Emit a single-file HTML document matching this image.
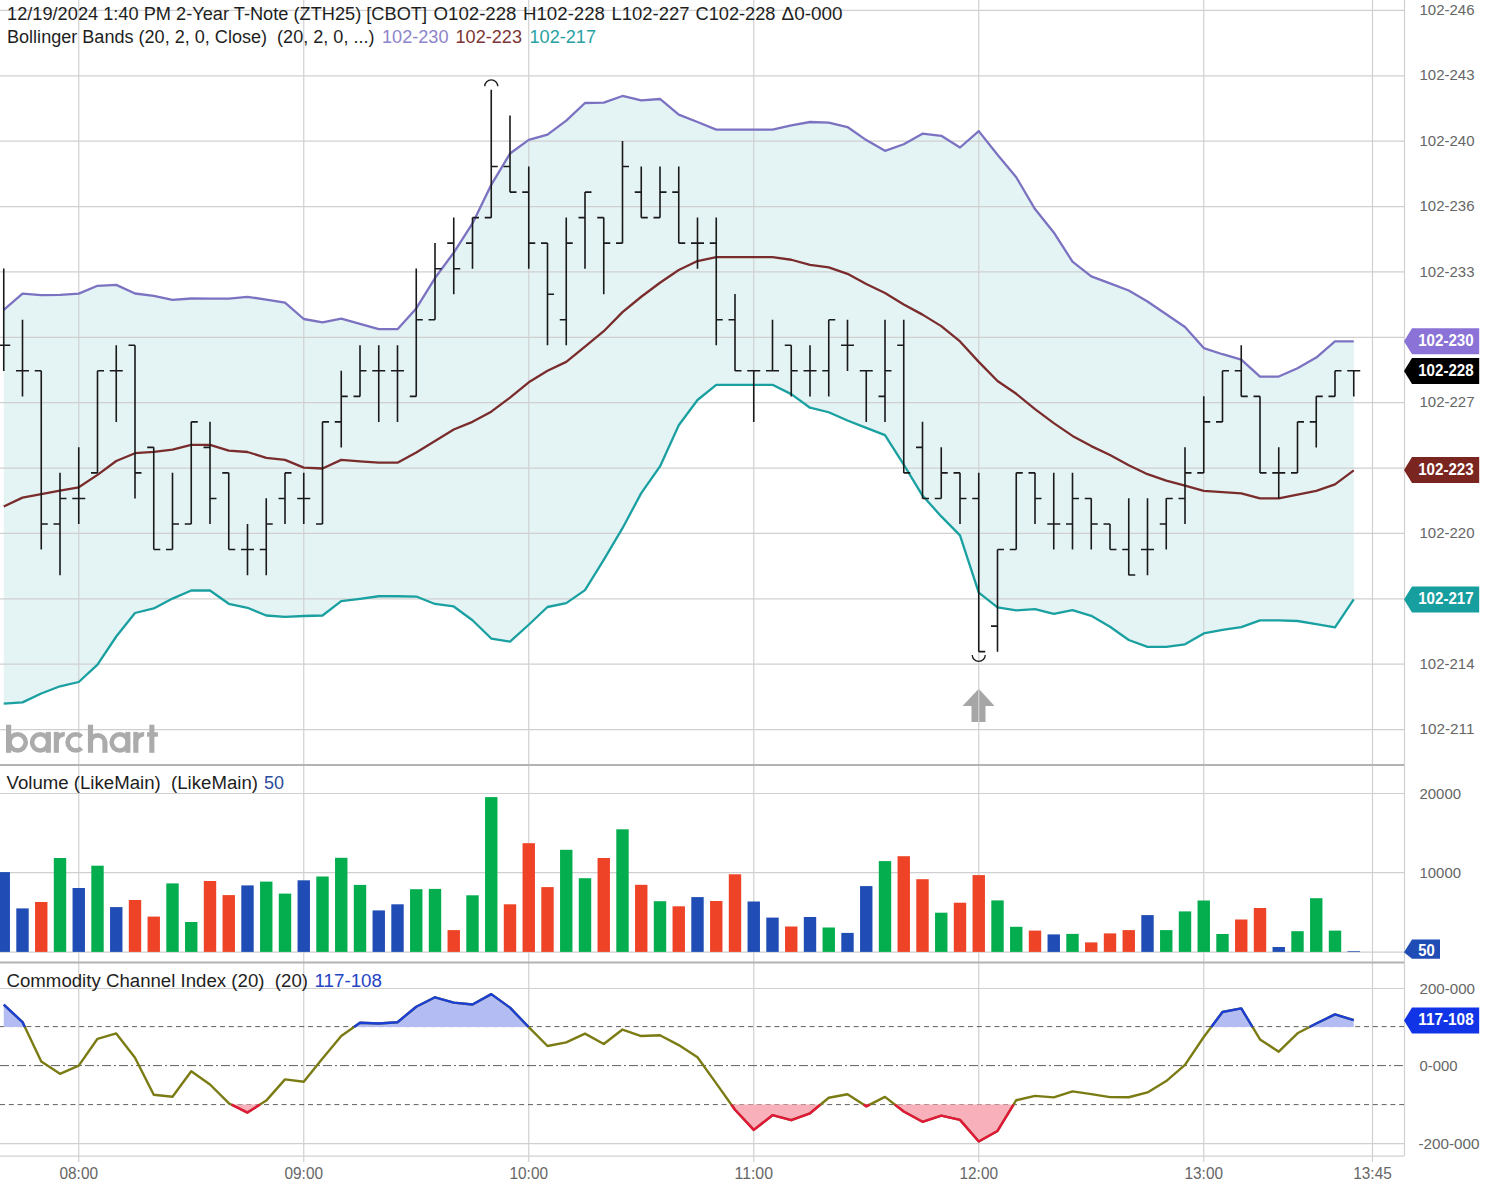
<!DOCTYPE html><html><head><meta charset="utf-8"><style>html,body{margin:0;padding:0;background:#fff;width:1486px;height:1191px;overflow:hidden}</style></head><body><svg width="1486" height="1191" viewBox="0 0 1486 1191" style="display:block;font-family:'Liberation Sans',sans-serif">
<rect width="1486" height="1191" fill="#fff"/>
<polygon points="3.75,309.80 22.50,293.70 41.25,295.20 60.00,294.80 78.75,293.60 97.50,285.80 116.25,284.90 135.00,293.50 153.75,295.80 172.50,299.80 191.25,298.50 210.00,298.60 228.75,298.60 247.50,296.80 266.25,299.60 285.00,302.60 303.75,319.00 322.50,322.40 341.25,318.70 360.00,323.97 378.75,329.17 397.50,329.17 416.25,308.44 435.00,278.03 453.75,252.57 472.50,223.45 491.25,184.79 510.00,153.54 528.75,139.83 547.50,134.60 566.25,120.60 585.00,103.02 603.75,102.61 622.50,95.99 641.25,100.40 660.00,98.99 678.75,114.68 697.50,122.03 716.25,129.57 735.00,129.57 753.75,129.57 772.50,129.57 791.25,125.35 810.00,122.00 828.75,122.56 847.50,127.04 866.25,140.12 885.00,150.81 903.75,144.25 922.50,133.68 941.25,135.84 960.00,147.50 978.75,131.09 997.50,154.73 1016.25,177.21 1035.00,209.05 1053.75,232.45 1072.50,261.64 1091.25,276.40 1110.00,283.33 1128.75,290.53 1147.50,301.44 1166.25,314.26 1185.00,327.07 1203.75,348.10 1222.50,354.23 1241.25,359.61 1260.00,376.55 1278.75,376.55 1297.50,368.23 1316.25,357.54 1335.00,341.37 1353.75,341.30 1353.75,599.44 1335.00,627.44 1316.25,624.04 1297.50,621.01 1278.75,620.35 1260.00,620.35 1241.25,627.08 1222.50,629.91 1203.75,633.49 1185.00,644.30 1166.25,646.90 1147.50,646.95 1128.75,639.99 1110.00,626.77 1091.25,615.83 1072.50,610.16 1053.75,613.83 1035.00,609.14 1016.25,610.35 997.50,607.29 978.75,592.64 960.00,535.38 941.25,516.40 922.50,495.59 903.75,464.59 885.00,435.06 866.25,427.87 847.50,420.53 828.75,412.25 810.00,407.70 791.25,394.14 772.50,384.82 753.75,384.82 735.00,384.82 716.25,384.82 697.50,400.01 678.75,425.23 660.00,466.45 641.25,493.13 622.50,528.17 603.75,559.85 585.00,590.07 566.25,603.13 547.50,607.00 528.75,624.74 510.00,641.67 491.25,638.51 472.50,620.27 453.75,606.47 435.00,603.98 416.25,596.55 397.50,596.25 378.75,596.25 360.00,598.89 341.25,601.20 322.50,615.50 303.75,616.00 285.00,616.80 266.25,615.50 247.50,607.80 228.75,603.80 210.00,590.50 191.25,590.50 172.50,598.60 153.75,608.40 135.00,613.00 116.25,636.50 97.50,664.60 78.75,682.00 60.00,686.30 41.25,693.50 22.50,702.40 3.75,703.70" fill="#e4f3f4"/>
<polygon points="978.75,688.7 994.5,706 985.5,706 985.5,722 971.5,722 971.5,706 962.5,706" fill="#a6a6a6"/>
<line x1="0" y1="10.40" x2="1404" y2="10.40" stroke="#d0d0d0" stroke-width="1.2"/>
<line x1="0" y1="75.78" x2="1404" y2="75.78" stroke="#d0d0d0" stroke-width="1.2"/>
<line x1="0" y1="141.16" x2="1404" y2="141.16" stroke="#d0d0d0" stroke-width="1.2"/>
<line x1="0" y1="206.54" x2="1404" y2="206.54" stroke="#d0d0d0" stroke-width="1.2"/>
<line x1="0" y1="271.92" x2="1404" y2="271.92" stroke="#d0d0d0" stroke-width="1.2"/>
<line x1="0" y1="337.30" x2="1404" y2="337.30" stroke="#d0d0d0" stroke-width="1.2"/>
<line x1="0" y1="402.68" x2="1404" y2="402.68" stroke="#d0d0d0" stroke-width="1.2"/>
<line x1="0" y1="468.06" x2="1404" y2="468.06" stroke="#d0d0d0" stroke-width="1.2"/>
<line x1="0" y1="533.44" x2="1404" y2="533.44" stroke="#d0d0d0" stroke-width="1.2"/>
<line x1="0" y1="598.82" x2="1404" y2="598.82" stroke="#d0d0d0" stroke-width="1.2"/>
<line x1="0" y1="664.20" x2="1404" y2="664.20" stroke="#d0d0d0" stroke-width="1.2"/>
<line x1="0" y1="729.58" x2="1404" y2="729.58" stroke="#d0d0d0" stroke-width="1.2"/>
<line x1="0" y1="793.5" x2="1404" y2="793.5" stroke="#d0d0d0" stroke-width="1.2"/>
<line x1="0" y1="872.6" x2="1404" y2="872.6" stroke="#d0d0d0" stroke-width="1.2"/>
<line x1="0" y1="952.2" x2="1404" y2="952.2" stroke="#d0d0d0" stroke-width="1.2"/>
<line x1="0" y1="988.5" x2="1404" y2="988.5" stroke="#d0d0d0" stroke-width="1.2"/>
<line x1="0" y1="1143.6" x2="1404" y2="1143.6" stroke="#d0d0d0" stroke-width="1.2"/>
<line x1="78.75" y1="0" x2="78.75" y2="1162" stroke="#d0d0d0" stroke-width="1.2"/>
<line x1="303.75" y1="0" x2="303.75" y2="1162" stroke="#d0d0d0" stroke-width="1.2"/>
<line x1="528.75" y1="0" x2="528.75" y2="1162" stroke="#d0d0d0" stroke-width="1.2"/>
<line x1="753.75" y1="0" x2="753.75" y2="1162" stroke="#d0d0d0" stroke-width="1.2"/>
<line x1="978.75" y1="0" x2="978.75" y2="1162" stroke="#d0d0d0" stroke-width="1.2"/>
<line x1="1203.75" y1="0" x2="1203.75" y2="1162" stroke="#d0d0d0" stroke-width="1.2"/>
<line x1="1372.5" y1="0" x2="1372.5" y2="1162" stroke="#d0d0d0" stroke-width="1.2"/>
<line x1="1404.5" y1="0" x2="1404.5" y2="1156" stroke="#d0d0d0" stroke-width="1.2"/>
<line x1="0" y1="1156.2" x2="1404" y2="1156.2" stroke="#d0d0d0" stroke-width="1.2"/>
<rect x="0" y="764" width="1404" height="2" fill="#b3b3b3"/>
<rect x="0" y="961.5" width="1404" height="2" fill="#b3b3b3"/>
<polyline points="3.75,309.80 22.50,293.70 41.25,295.20 60.00,294.80 78.75,293.60 97.50,285.80 116.25,284.90 135.00,293.50 153.75,295.80 172.50,299.80 191.25,298.50 210.00,298.60 228.75,298.60 247.50,296.80 266.25,299.60 285.00,302.60 303.75,319.00 322.50,322.40 341.25,318.70 360.00,323.97 378.75,329.17 397.50,329.17 416.25,308.44 435.00,278.03 453.75,252.57 472.50,223.45 491.25,184.79 510.00,153.54 528.75,139.83 547.50,134.60 566.25,120.60 585.00,103.02 603.75,102.61 622.50,95.99 641.25,100.40 660.00,98.99 678.75,114.68 697.50,122.03 716.25,129.57 735.00,129.57 753.75,129.57 772.50,129.57 791.25,125.35 810.00,122.00 828.75,122.56 847.50,127.04 866.25,140.12 885.00,150.81 903.75,144.25 922.50,133.68 941.25,135.84 960.00,147.50 978.75,131.09 997.50,154.73 1016.25,177.21 1035.00,209.05 1053.75,232.45 1072.50,261.64 1091.25,276.40 1110.00,283.33 1128.75,290.53 1147.50,301.44 1166.25,314.26 1185.00,327.07 1203.75,348.10 1222.50,354.23 1241.25,359.61 1260.00,376.55 1278.75,376.55 1297.50,368.23 1316.25,357.54 1335.00,341.37 1353.75,341.30" fill="none" stroke="#7b72c2" stroke-width="2.3" stroke-linejoin="round"/>
<polyline points="3.75,506.50 22.50,497.60 41.25,494.10 60.00,490.60 78.75,487.30 97.50,474.90 116.25,461.00 135.00,453.20 153.75,451.80 172.50,449.60 191.25,444.90 210.00,444.90 228.75,450.60 247.50,452.00 266.25,457.80 285.00,459.90 303.75,467.60 322.50,468.50 341.25,459.90 360.00,461.43 378.75,462.71 397.50,462.71 416.25,452.50 435.00,441.01 453.75,429.52 472.50,421.86 491.25,411.65 510.00,397.61 528.75,382.29 547.50,370.80 566.25,361.86 585.00,346.55 603.75,331.23 622.50,312.08 641.25,296.76 660.00,282.72 678.75,269.96 697.50,261.02 716.25,257.19 735.00,257.19 753.75,257.19 772.50,257.19 791.25,259.74 810.00,264.85 828.75,267.40 847.50,273.79 866.25,284.00 885.00,292.93 903.75,304.42 922.50,314.63 941.25,326.12 960.00,341.44 978.75,361.86 997.50,381.01 1016.25,393.78 1035.00,409.10 1053.75,423.14 1072.50,435.90 1091.25,446.11 1110.00,455.05 1128.75,465.26 1147.50,474.20 1166.25,480.58 1185.00,485.69 1203.75,490.79 1222.50,492.07 1241.25,493.34 1260.00,498.45 1278.75,498.45 1297.50,494.62 1316.25,490.79 1335.00,484.41 1353.75,470.37" fill="none" stroke="#7a2c2c" stroke-width="2.3" stroke-linejoin="round"/>
<polyline points="3.75,703.70 22.50,702.40 41.25,693.50 60.00,686.30 78.75,682.00 97.50,664.60 116.25,636.50 135.00,613.00 153.75,608.40 172.50,598.60 191.25,590.50 210.00,590.50 228.75,603.80 247.50,607.80 266.25,615.50 285.00,616.80 303.75,616.00 322.50,615.50 341.25,601.20 360.00,598.89 378.75,596.25 397.50,596.25 416.25,596.55 435.00,603.98 453.75,606.47 472.50,620.27 491.25,638.51 510.00,641.67 528.75,624.74 547.50,607.00 566.25,603.13 585.00,590.07 603.75,559.85 622.50,528.17 641.25,493.13 660.00,466.45 678.75,425.23 697.50,400.01 716.25,384.82 735.00,384.82 753.75,384.82 772.50,384.82 791.25,394.14 810.00,407.70 828.75,412.25 847.50,420.53 866.25,427.87 885.00,435.06 903.75,464.59 922.50,495.59 941.25,516.40 960.00,535.38 978.75,592.64 997.50,607.29 1016.25,610.35 1035.00,609.14 1053.75,613.83 1072.50,610.16 1091.25,615.83 1110.00,626.77 1128.75,639.99 1147.50,646.95 1166.25,646.90 1185.00,644.30 1203.75,633.49 1222.50,629.91 1241.25,627.08 1260.00,620.35 1278.75,620.35 1297.50,621.01 1316.25,624.04 1335.00,627.44 1353.75,599.44" fill="none" stroke="#1aa0a0" stroke-width="2.3" stroke-linejoin="round"/>
<path d="M3.75,268.58V370.90M-2.75,345.27H3.75M3.75,345.27H10.25M22.50,319.64V396.43M16.00,370.80H22.50M22.50,370.80H29.00M41.25,370.70V549.61M34.75,370.80H41.25M41.25,523.98H47.75M60.00,472.82V575.14M53.50,523.98H60.00M60.00,498.45H66.50M78.75,447.29V524.08M72.25,498.45H78.75M78.75,498.45H85.25M97.50,370.70V473.02M91.00,472.92H97.50M97.50,370.80H104.00M116.25,345.17V421.96M109.75,370.80H116.25M116.25,370.80H122.75M135.00,345.17V498.55M128.50,345.27H135.00M135.00,472.92H141.50M153.75,447.29V549.61M147.25,447.39H153.75M153.75,549.51H160.25M172.50,472.82V549.61M166.00,549.51H172.50M172.50,523.98H179.00M191.25,421.76V524.08M184.75,523.98H191.25M191.25,421.86H197.75M210.00,421.76V524.08M203.50,447.39H210.00M210.00,498.45H216.50M228.75,472.82V549.61M222.25,472.92H228.75M228.75,549.51H235.25M247.50,523.88V575.14M241.00,549.51H247.50M247.50,549.51H254.00M266.25,498.35V575.14M259.75,549.51H266.25M266.25,523.98H272.75M285.00,472.82V524.08M278.50,498.45H285.00M285.00,472.92H291.50M303.75,472.82V524.08M297.25,498.45H303.75M303.75,498.45H310.25M322.50,421.76V524.08M316.00,523.98H322.50M322.50,421.86H329.00M341.25,370.70V447.49M334.75,421.86H341.25M341.25,396.33H347.75M360.00,345.17V396.43M353.50,396.33H360.00M360.00,370.80H366.50M378.75,345.17V421.96M372.25,370.80H378.75M378.75,370.80H385.25M397.50,345.17V421.96M391.00,370.80H397.50M397.50,370.80H404.00M416.25,268.58V396.43M409.75,396.33H416.25M416.25,319.74H422.75M435.00,243.05V319.84M428.50,319.74H435.00M435.00,268.68H441.50M453.75,217.52V294.31M447.25,243.15H453.75M453.75,268.68H460.25M472.50,217.52V268.78M466.00,243.15H472.50M472.50,217.62H479.00M491.25,89.87V217.72M484.75,217.62H491.25M491.25,166.56H497.75M510.00,115.40V192.19M503.50,166.56H510.00M510.00,192.09H516.50M528.75,166.46V268.78M522.25,192.09H528.75M528.75,243.15H535.25M547.50,243.05V345.37M541.00,243.15H547.50M547.50,294.21H554.00M566.25,217.52V345.37M559.75,319.74H566.25M566.25,243.15H572.75M585.00,191.99V268.78M578.50,217.62H585.00M585.00,192.09H591.50M603.75,217.52V294.31M597.25,217.62H603.75M603.75,243.15H610.25M622.50,140.93V243.25M616.00,243.15H622.50M622.50,166.56H629.00M641.25,166.46V217.72M634.75,192.09H641.25M641.25,217.62H647.75M660.00,166.46V217.72M653.50,217.62H660.00M660.00,192.09H666.50M678.75,166.46V243.25M672.25,192.09H678.75M678.75,243.15H685.25M697.50,217.52V268.78M691.00,243.15H697.50M697.50,243.15H704.00M716.25,217.52V345.37M709.75,243.15H716.25M716.25,319.74H722.75M735.00,294.11V370.90M728.50,319.74H735.00M735.00,370.80H741.50M753.75,370.70V421.96M747.25,370.80H753.75M753.75,370.80H760.25M772.50,319.64V370.90M766.00,370.80H772.50M772.50,370.80H779.00M791.25,345.17V396.43M784.75,345.27H791.25M791.25,370.80H797.75M810.00,345.17V396.43M803.50,370.80H810.00M810.00,370.80H816.50M828.75,319.64V396.43M822.25,370.80H828.75M828.75,319.74H835.25M847.50,319.64V370.90M841.00,345.27H847.50M847.50,345.27H854.00M866.25,370.70V421.96M859.75,370.80H866.25M866.25,370.80H872.75M885.00,319.64V421.96M878.50,396.33H885.00M885.00,370.80H891.50M903.75,319.64V473.02M897.25,345.27H903.75M903.75,472.92H910.25M922.50,421.76V498.55M916.00,447.39H922.50M922.50,498.45H929.00M941.25,447.29V498.55M934.75,498.45H941.25M941.25,472.92H947.75M960.00,472.82V524.08M953.50,472.92H960.00M960.00,498.45H966.50M978.75,472.82V651.73M972.25,498.45H978.75M978.75,651.63H985.25M997.50,549.41V651.73M991.00,626.10H997.50M997.50,549.51H1004.00M1016.25,472.82V549.61M1009.75,549.51H1016.25M1016.25,472.92H1022.75M1035.00,472.82V524.08M1028.50,472.92H1035.00M1035.00,498.45H1041.50M1053.75,472.82V549.61M1047.25,523.98H1053.75M1053.75,523.98H1060.25M1072.50,472.82V549.61M1066.00,523.98H1072.50M1072.50,498.45H1079.00M1091.25,498.35V549.61M1084.75,498.45H1091.25M1091.25,523.98H1097.75M1110.00,523.88V549.61M1103.50,523.98H1110.00M1110.00,549.51H1116.50M1128.75,498.35V575.14M1122.25,549.51H1128.75M1128.75,575.04H1135.25M1147.50,498.35V575.14M1141.00,549.51H1147.50M1147.50,549.51H1154.00M1166.25,498.35V549.61M1159.75,523.98H1166.25M1166.25,498.45H1172.75M1185.00,447.29V524.08M1178.50,498.45H1185.00M1185.00,472.92H1191.50M1203.75,396.23V473.02M1197.25,472.92H1203.75M1203.75,421.86H1210.25M1222.50,370.70V421.96M1216.00,421.86H1222.50M1222.50,370.80H1229.00M1241.25,345.17V396.43M1234.75,370.80H1241.25M1241.25,396.33H1247.75M1260.00,396.23V473.02M1253.50,396.33H1260.00M1260.00,472.92H1266.50M1278.75,447.29V498.55M1272.25,472.92H1278.75M1278.75,472.92H1285.25M1297.50,421.76V473.02M1291.00,472.92H1297.50M1297.50,421.86H1304.00M1316.25,396.23V447.49M1309.75,421.86H1316.25M1316.25,396.33H1322.75M1335.00,370.70V396.43M1328.50,396.33H1335.00M1335.00,370.80H1341.50M1353.75,370.70V396.43M1347.25,370.80H1353.75M1353.75,370.80H1360.25" fill="none" stroke="#1a1a1a" stroke-width="1.6"/>
<path d="M484.75,86.37 A6.5,6.5 0 0 1 497.75,86.37" fill="none" stroke="#1a1a1a" stroke-width="1.3"/>
<path d="M972.25,654.93 A6.5,6.5 0 0 0 985.25,654.93" fill="none" stroke="#1a1a1a" stroke-width="1.3"/>
<g fill="#ababab">
<rect x="6" y="724.7" width="5.2" height="28.1"/>
<rect x="45.8" y="731.9" width="5.1" height="20.9"/>
<rect x="53.8" y="731.9" width="5.1" height="20.9"/>
<rect x="87.9" y="724.7" width="5.2" height="28.1"/>
<rect x="102.4" y="741.3" width="5.1" height="11.5"/>
<rect x="125.3" y="731.9" width="5.1" height="20.9"/>
<rect x="133.3" y="731.9" width="5.1" height="20.9"/>
<rect x="149.3" y="724.7" width="5.1" height="28.1"/>
<rect x="147" y="732.2" width="10.9" height="4.5"/>
</g>
<g fill="none" stroke="#ababab" stroke-width="4.6">
<circle cx="17.6" cy="742.35" r="8.15"/>
<circle cx="40.2" cy="742.35" r="8.15"/>
<path d="M56.35,743.5 A8.2,8.2 0 0 1 64.8,734.2"/>
<path d="M81.5,736.6 A8.15,8.15 0 1 0 81.5,748.1"/>
<path d="M90.5,742.6 A7.2,7.2 0 0 1 104.95,742.6"/>
<circle cx="119.8" cy="742.35" r="8.15"/>
<path d="M135.85,743.5 A8.2,8.2 0 0 1 144.2,734.2"/>
</g>
<rect x="-2.45" y="872.10" width="12.4" height="79.80" fill="#1f4db5"/>
<rect x="16.30" y="908.40" width="12.4" height="43.50" fill="#1f4db5"/>
<rect x="35.05" y="902.00" width="12.4" height="49.90" fill="#ee4326"/>
<rect x="53.80" y="858.00" width="12.4" height="93.90" fill="#04ae4f"/>
<rect x="72.55" y="888.00" width="12.4" height="63.90" fill="#1f4db5"/>
<rect x="91.30" y="865.70" width="12.4" height="86.20" fill="#04ae4f"/>
<rect x="110.05" y="907.10" width="12.4" height="44.80" fill="#1f4db5"/>
<rect x="128.80" y="900.00" width="12.4" height="51.90" fill="#ee4326"/>
<rect x="147.55" y="916.60" width="12.4" height="35.30" fill="#ee4326"/>
<rect x="166.30" y="883.40" width="12.4" height="68.50" fill="#04ae4f"/>
<rect x="185.05" y="922.00" width="12.4" height="29.90" fill="#04ae4f"/>
<rect x="203.80" y="881.00" width="12.4" height="70.90" fill="#ee4326"/>
<rect x="222.55" y="895.10" width="12.4" height="56.80" fill="#ee4326"/>
<rect x="241.30" y="885.40" width="12.4" height="66.50" fill="#1f4db5"/>
<rect x="260.05" y="881.60" width="12.4" height="70.30" fill="#04ae4f"/>
<rect x="278.80" y="893.60" width="12.4" height="58.30" fill="#04ae4f"/>
<rect x="297.55" y="880.30" width="12.4" height="71.60" fill="#1f4db5"/>
<rect x="316.30" y="876.50" width="12.4" height="75.40" fill="#04ae4f"/>
<rect x="335.05" y="857.80" width="12.4" height="94.10" fill="#04ae4f"/>
<rect x="353.80" y="884.90" width="12.4" height="67.00" fill="#04ae4f"/>
<rect x="372.55" y="910.40" width="12.4" height="41.50" fill="#1f4db5"/>
<rect x="391.30" y="904.30" width="12.4" height="47.60" fill="#1f4db5"/>
<rect x="410.05" y="889.20" width="12.4" height="62.70" fill="#04ae4f"/>
<rect x="428.80" y="888.90" width="12.4" height="63.00" fill="#04ae4f"/>
<rect x="447.55" y="930.10" width="12.4" height="21.80" fill="#ee4326"/>
<rect x="466.30" y="895.30" width="12.4" height="56.60" fill="#04ae4f"/>
<rect x="485.05" y="797.10" width="12.4" height="154.80" fill="#04ae4f"/>
<rect x="503.80" y="904.30" width="12.4" height="47.60" fill="#ee4326"/>
<rect x="522.55" y="843.20" width="12.4" height="108.70" fill="#ee4326"/>
<rect x="541.30" y="887.10" width="12.4" height="64.80" fill="#ee4326"/>
<rect x="560.05" y="849.80" width="12.4" height="102.10" fill="#04ae4f"/>
<rect x="578.80" y="878.20" width="12.4" height="73.70" fill="#04ae4f"/>
<rect x="597.55" y="858.00" width="12.4" height="93.90" fill="#ee4326"/>
<rect x="616.30" y="829.30" width="12.4" height="122.60" fill="#04ae4f"/>
<rect x="635.05" y="884.80" width="12.4" height="67.10" fill="#ee4326"/>
<rect x="653.80" y="901.20" width="12.4" height="50.70" fill="#04ae4f"/>
<rect x="672.55" y="906.30" width="12.4" height="45.60" fill="#ee4326"/>
<rect x="691.30" y="897.10" width="12.4" height="54.80" fill="#1f4db5"/>
<rect x="710.05" y="901.00" width="12.4" height="50.90" fill="#ee4326"/>
<rect x="728.80" y="874.30" width="12.4" height="77.60" fill="#ee4326"/>
<rect x="747.55" y="901.50" width="12.4" height="50.40" fill="#1f4db5"/>
<rect x="766.30" y="917.60" width="12.4" height="34.30" fill="#1f4db5"/>
<rect x="785.05" y="926.50" width="12.4" height="25.40" fill="#ee4326"/>
<rect x="803.80" y="917.00" width="12.4" height="34.90" fill="#1f4db5"/>
<rect x="822.55" y="927.50" width="12.4" height="24.40" fill="#04ae4f"/>
<rect x="841.30" y="932.90" width="12.4" height="19.00" fill="#1f4db5"/>
<rect x="860.05" y="886.10" width="12.4" height="65.80" fill="#1f4db5"/>
<rect x="878.80" y="861.10" width="12.4" height="90.80" fill="#04ae4f"/>
<rect x="897.55" y="856.20" width="12.4" height="95.70" fill="#ee4326"/>
<rect x="916.30" y="879.20" width="12.4" height="72.70" fill="#ee4326"/>
<rect x="935.05" y="912.70" width="12.4" height="39.20" fill="#04ae4f"/>
<rect x="953.80" y="902.70" width="12.4" height="49.20" fill="#ee4326"/>
<rect x="972.55" y="875.10" width="12.4" height="76.80" fill="#ee4326"/>
<rect x="991.30" y="900.40" width="12.4" height="51.50" fill="#04ae4f"/>
<rect x="1010.05" y="926.80" width="12.4" height="25.10" fill="#04ae4f"/>
<rect x="1028.80" y="930.60" width="12.4" height="21.30" fill="#ee4326"/>
<rect x="1047.55" y="934.40" width="12.4" height="17.50" fill="#1f4db5"/>
<rect x="1066.30" y="933.90" width="12.4" height="18.00" fill="#04ae4f"/>
<rect x="1085.05" y="942.40" width="12.4" height="9.50" fill="#ee4326"/>
<rect x="1103.80" y="933.40" width="12.4" height="18.50" fill="#ee4326"/>
<rect x="1122.55" y="930.10" width="12.4" height="21.80" fill="#ee4326"/>
<rect x="1141.30" y="915.10" width="12.4" height="36.80" fill="#1f4db5"/>
<rect x="1160.05" y="930.10" width="12.4" height="21.80" fill="#04ae4f"/>
<rect x="1178.80" y="911.40" width="12.4" height="40.50" fill="#04ae4f"/>
<rect x="1197.55" y="900.50" width="12.4" height="51.40" fill="#04ae4f"/>
<rect x="1216.30" y="934.00" width="12.4" height="17.90" fill="#04ae4f"/>
<rect x="1235.05" y="919.50" width="12.4" height="32.40" fill="#ee4326"/>
<rect x="1253.80" y="908.00" width="12.4" height="43.90" fill="#ee4326"/>
<rect x="1272.55" y="947.00" width="12.4" height="4.90" fill="#1f4db5"/>
<rect x="1291.30" y="931.20" width="12.4" height="20.70" fill="#04ae4f"/>
<rect x="1310.05" y="898.20" width="12.4" height="53.70" fill="#04ae4f"/>
<rect x="1328.80" y="930.60" width="12.4" height="21.30" fill="#04ae4f"/>
<rect x="1347.55" y="951.20" width="12.4" height="0.70" fill="#1f4db5"/>
<line x1="0" y1="1026.6" x2="1404" y2="1026.6" stroke="#606060" stroke-width="1" stroke-dasharray="5,3.8"/>
<line x1="0" y1="1104.6" x2="1404" y2="1104.6" stroke="#606060" stroke-width="1" stroke-dasharray="5,3.8"/>
<line x1="0" y1="1065.6" x2="1404" y2="1065.6" stroke="#606060" stroke-width="1" stroke-dasharray="9,3,2,3"/>
<polygon points="3.75,1004.70 22.50,1022.10 24.83,1027.00 24.83,1027.0 3.75,1027.0" fill="#b3bdf3"/>
<polygon points="354.02,1027.00 360.00,1022.78 378.75,1023.45 397.50,1022.21 416.25,1006.73 435.00,997.30 453.75,1002.58 472.50,1004.46 491.25,994.15 510.00,1007.65 528.60,1027.00 528.60,1027.0 354.02,1027.0" fill="#b3bdf3"/>
<polygon points="1211.27,1027.00 1222.50,1012.00 1241.25,1008.34 1252.51,1027.00 1252.51,1027.0 1211.27,1027.0" fill="#b3bdf3"/>
<polygon points="1309.52,1027.00 1316.25,1023.47 1335.00,1014.43 1353.75,1020.13 1353.75,1027.0 1309.52,1027.0" fill="#b3bdf3"/>
<polygon points="231.54,1104.60 247.50,1112.60 260.00,1104.60 260.00,1104.6 231.54,1104.6" fill="#f8b1ba"/>
<polygon points="731.36,1104.60 735.00,1109.71 753.75,1129.92 772.50,1115.21 791.25,1120.21 810.00,1113.25 820.47,1104.60 820.47,1104.6 731.36,1104.6" fill="#f8b1ba"/>
<polygon points="863.54,1104.60 866.25,1106.34 869.70,1104.60 869.70,1104.6 863.54,1104.6" fill="#f8b1ba"/>
<polygon points="894.88,1104.60 903.75,1111.51 922.50,1121.79 941.25,1115.63 960.00,1119.89 978.75,1141.44 997.50,1130.98 1013.58,1104.60 1013.58,1104.6 894.88,1104.6" fill="#f8b1ba"/>
<polyline points="3.75,1004.70 22.50,1022.10 41.25,1061.50 60.00,1073.80 78.75,1065.60 97.50,1038.80 116.25,1033.40 135.00,1057.70 153.75,1094.70 172.50,1096.80 191.25,1071.20 210.00,1084.50 228.75,1103.20 247.50,1112.60 266.25,1100.60 285.00,1079.40 303.75,1081.70 322.50,1058.40 341.25,1036.00 360.00,1022.78 378.75,1023.45 397.50,1022.21 416.25,1006.73 435.00,997.30 453.75,1002.58 472.50,1004.46 491.25,994.15 510.00,1007.65 528.75,1027.16 547.50,1046.02 566.25,1042.42 585.00,1033.64 603.75,1044.06 622.50,1029.54 641.25,1036.03 660.00,1035.27 678.75,1045.11 697.50,1057.18 716.25,1083.39 735.00,1109.71 753.75,1129.92 772.50,1115.21 791.25,1120.21 810.00,1113.25 828.75,1097.76 847.50,1094.30 866.25,1106.34 885.00,1096.90 903.75,1111.51 922.50,1121.79 941.25,1115.63 960.00,1119.89 978.75,1141.44 997.50,1130.98 1016.25,1100.21 1035.00,1095.86 1053.75,1097.40 1072.50,1091.39 1091.25,1094.14 1110.00,1097.11 1128.75,1097.28 1147.50,1092.44 1166.25,1081.05 1185.00,1064.82 1203.75,1037.04 1222.50,1012.00 1241.25,1008.34 1260.00,1039.42 1278.75,1051.69 1297.50,1033.31 1316.25,1023.47 1335.00,1014.43 1353.75,1020.13" fill="none" stroke="#7b7b14" stroke-width="2.4" stroke-linejoin="round"/>
<polyline points="3.75,1004.70 22.50,1022.10 24.83,1027.00" fill="none" stroke="#1b3fd6" stroke-width="2.4" stroke-linejoin="round"/>
<polyline points="354.02,1027.00 360.00,1022.78 378.75,1023.45 397.50,1022.21 416.25,1006.73 435.00,997.30 453.75,1002.58 472.50,1004.46 491.25,994.15 510.00,1007.65 528.60,1027.00" fill="none" stroke="#1b3fd6" stroke-width="2.4" stroke-linejoin="round"/>
<polyline points="1211.27,1027.00 1222.50,1012.00 1241.25,1008.34 1252.51,1027.00" fill="none" stroke="#1b3fd6" stroke-width="2.4" stroke-linejoin="round"/>
<polyline points="1309.52,1027.00 1316.25,1023.47 1335.00,1014.43 1353.75,1020.13" fill="none" stroke="#1b3fd6" stroke-width="2.4" stroke-linejoin="round"/>
<polyline points="231.54,1104.60 247.50,1112.60 260.00,1104.60" fill="none" stroke="#e3173c" stroke-width="2.4" stroke-linejoin="round"/>
<polyline points="731.36,1104.60 735.00,1109.71 753.75,1129.92 772.50,1115.21 791.25,1120.21 810.00,1113.25 820.47,1104.60" fill="none" stroke="#e3173c" stroke-width="2.4" stroke-linejoin="round"/>
<polyline points="863.54,1104.60 866.25,1106.34 869.70,1104.60" fill="none" stroke="#e3173c" stroke-width="2.4" stroke-linejoin="round"/>
<polyline points="894.88,1104.60 903.75,1111.51 922.50,1121.79 941.25,1115.63 960.00,1119.89 978.75,1141.44 997.50,1130.98 1013.58,1104.60" fill="none" stroke="#e3173c" stroke-width="2.4" stroke-linejoin="round"/>
<text x="7" y="19.9" font-size="18" fill="#1e1e1e" font-weight="normal" text-anchor="start" textLength="420" lengthAdjust="spacingAndGlyphs" xml:space="preserve">12/19/2024 1:40 PM 2-Year T-Note (ZTH25) [CBOT]</text>
<text x="433.5" y="19.9" font-size="18" fill="#1e1e1e" font-weight="normal" text-anchor="start" textLength="83" lengthAdjust="spacingAndGlyphs" xml:space="preserve">O102-228</text>
<text x="523" y="19.9" font-size="18" fill="#1e1e1e" font-weight="normal" text-anchor="start" textLength="82" lengthAdjust="spacingAndGlyphs" xml:space="preserve">H102-228</text>
<text x="611.5" y="19.9" font-size="18" fill="#1e1e1e" font-weight="normal" text-anchor="start" textLength="78" lengthAdjust="spacingAndGlyphs" xml:space="preserve">L102-227</text>
<text x="695.5" y="19.9" font-size="18" fill="#1e1e1e" font-weight="normal" text-anchor="start" textLength="80" lengthAdjust="spacingAndGlyphs" xml:space="preserve">C102-228</text>
<text x="781.5" y="19.9" font-size="18" fill="#1e1e1e" font-weight="normal" text-anchor="start" textLength="61" lengthAdjust="spacingAndGlyphs" xml:space="preserve">Δ0-000</text>
<text x="7" y="42.8" font-size="18" fill="#1e1e1e" font-weight="normal" text-anchor="start" textLength="367.5" lengthAdjust="spacingAndGlyphs" xml:space="preserve">Bollinger Bands (20, 2, 0, Close)  (20, 2, 0, ...)</text>
<text x="382" y="42.8" font-size="18" fill="#8e84cb" font-weight="normal" text-anchor="start" textLength="66.5" lengthAdjust="spacingAndGlyphs" xml:space="preserve">102-230</text>
<text x="455.5" y="42.8" font-size="18" fill="#7d3535" font-weight="normal" text-anchor="start" textLength="66.5" lengthAdjust="spacingAndGlyphs" xml:space="preserve">102-223</text>
<text x="529.5" y="42.8" font-size="18" fill="#28a2a2" font-weight="normal" text-anchor="start" textLength="66.5" lengthAdjust="spacingAndGlyphs" xml:space="preserve">102-217</text>
<text x="6.5" y="788.7" font-size="18" fill="#1e1e1e" font-weight="normal" text-anchor="start" textLength="251.5" lengthAdjust="spacingAndGlyphs" xml:space="preserve">Volume (LikeMain)  (LikeMain)</text>
<text x="264" y="788.7" font-size="18" fill="#2b4c9c" font-weight="normal" text-anchor="start" textLength="20" lengthAdjust="spacingAndGlyphs" xml:space="preserve">50</text>
<text x="6.5" y="986.8" font-size="18" fill="#1e1e1e" font-weight="normal" text-anchor="start" textLength="301.5" lengthAdjust="spacingAndGlyphs" xml:space="preserve">Commodity Channel Index (20)  (20)</text>
<text x="314.5" y="986.8" font-size="18" fill="#2444c4" font-weight="normal" text-anchor="start" textLength="67.5" lengthAdjust="spacingAndGlyphs" xml:space="preserve">117-108</text>
<text x="1419.5" y="15.0" font-size="15.5" fill="#666666" font-weight="normal" text-anchor="start" textLength="55" lengthAdjust="spacingAndGlyphs" xml:space="preserve">102-246</text>
<text x="1419.5" y="80.38" font-size="15.5" fill="#666666" font-weight="normal" text-anchor="start" textLength="55" lengthAdjust="spacingAndGlyphs" xml:space="preserve">102-243</text>
<text x="1419.5" y="145.76" font-size="15.5" fill="#666666" font-weight="normal" text-anchor="start" textLength="55" lengthAdjust="spacingAndGlyphs" xml:space="preserve">102-240</text>
<text x="1419.5" y="211.14" font-size="15.5" fill="#666666" font-weight="normal" text-anchor="start" textLength="55" lengthAdjust="spacingAndGlyphs" xml:space="preserve">102-236</text>
<text x="1419.5" y="276.52" font-size="15.5" fill="#666666" font-weight="normal" text-anchor="start" textLength="55" lengthAdjust="spacingAndGlyphs" xml:space="preserve">102-233</text>
<text x="1419.5" y="407.28" font-size="15.5" fill="#666666" font-weight="normal" text-anchor="start" textLength="55" lengthAdjust="spacingAndGlyphs" xml:space="preserve">102-227</text>
<text x="1419.5" y="538.04" font-size="15.5" fill="#666666" font-weight="normal" text-anchor="start" textLength="55" lengthAdjust="spacingAndGlyphs" xml:space="preserve">102-220</text>
<text x="1419.5" y="668.8" font-size="15.5" fill="#666666" font-weight="normal" text-anchor="start" textLength="55" lengthAdjust="spacingAndGlyphs" xml:space="preserve">102-214</text>
<text x="1419.5" y="734.18" font-size="15.5" fill="#666666" font-weight="normal" text-anchor="start" textLength="55" lengthAdjust="spacingAndGlyphs" xml:space="preserve">102-211</text>
<text x="1419.5" y="798.6" font-size="14.8" fill="#666666" font-weight="normal" text-anchor="start" textLength="41.5" lengthAdjust="spacingAndGlyphs" xml:space="preserve">20000</text>
<text x="1419.5" y="877.7" font-size="14.8" fill="#666666" font-weight="normal" text-anchor="start" textLength="41.5" lengthAdjust="spacingAndGlyphs" xml:space="preserve">10000</text>
<text x="1419.5" y="993.6" font-size="14.8" fill="#666666" font-weight="normal" text-anchor="start" textLength="55.5" lengthAdjust="spacingAndGlyphs" xml:space="preserve">200-000</text>
<text x="1419.5" y="1070.8999999999999" font-size="14.8" fill="#666666" font-weight="normal" text-anchor="start" textLength="38" lengthAdjust="spacingAndGlyphs" xml:space="preserve">0-000</text>
<text x="1418.5" y="1148.6999999999998" font-size="14.8" fill="#666666" font-weight="normal" text-anchor="start" textLength="61" lengthAdjust="spacingAndGlyphs" xml:space="preserve">-200-000</text>
<text x="78.75" y="1178.9" font-size="15.8" fill="#666666" font-weight="normal" text-anchor="middle" textLength="38.5" lengthAdjust="spacingAndGlyphs" xml:space="preserve">08:00</text>
<text x="303.75" y="1178.9" font-size="15.8" fill="#666666" font-weight="normal" text-anchor="middle" textLength="38.5" lengthAdjust="spacingAndGlyphs" xml:space="preserve">09:00</text>
<text x="528.75" y="1178.9" font-size="15.8" fill="#666666" font-weight="normal" text-anchor="middle" textLength="38.5" lengthAdjust="spacingAndGlyphs" xml:space="preserve">10:00</text>
<text x="753.75" y="1178.9" font-size="15.8" fill="#666666" font-weight="normal" text-anchor="middle" textLength="38.5" lengthAdjust="spacingAndGlyphs" xml:space="preserve">11:00</text>
<text x="978.75" y="1178.9" font-size="15.8" fill="#666666" font-weight="normal" text-anchor="middle" textLength="38.5" lengthAdjust="spacingAndGlyphs" xml:space="preserve">12:00</text>
<text x="1203.75" y="1178.9" font-size="15.8" fill="#666666" font-weight="normal" text-anchor="middle" textLength="38.5" lengthAdjust="spacingAndGlyphs" xml:space="preserve">13:00</text>
<text x="1372.5" y="1178.9" font-size="15.8" fill="#666666" font-weight="normal" text-anchor="middle" textLength="38.5" lengthAdjust="spacingAndGlyphs" xml:space="preserve">13:45</text>
<polygon points="1404,341.20 1412,328.20 1479.2,328.20 1479.2,354.20 1412,354.20" fill="#8a72d6"/>
<text x="1418.2" y="346.0" font-size="16.8" fill="#fff" font-weight="bold" text-anchor="start" textLength="55.5" lengthAdjust="spacingAndGlyphs" xml:space="preserve">102-230</text>
<polygon points="1404,370.90 1412,357.90 1479.2,357.90 1479.2,383.90 1412,383.90" fill="#000000"/>
<text x="1418.2" y="375.7" font-size="16.8" fill="#fff" font-weight="bold" text-anchor="start" textLength="55.5" lengthAdjust="spacingAndGlyphs" xml:space="preserve">102-228</text>
<polygon points="1404,470.00 1412,457.00 1479.2,457.00 1479.2,483.00 1412,483.00" fill="#7b2520"/>
<text x="1418.2" y="474.8" font-size="16.8" fill="#fff" font-weight="bold" text-anchor="start" textLength="55.5" lengthAdjust="spacingAndGlyphs" xml:space="preserve">102-223</text>
<polygon points="1404,599.40 1412,586.40 1479.2,586.40 1479.2,612.40 1412,612.40" fill="#179e9e"/>
<text x="1418.2" y="604.1999999999999" font-size="16.8" fill="#fff" font-weight="bold" text-anchor="start" textLength="55.5" lengthAdjust="spacingAndGlyphs" xml:space="preserve">102-217</text>
<polygon points="1404,952.2 1412,939.5 1440,939.5 1440,958.8 1412,958.8" fill="#1f4db5"/>
<text x="1418.3" y="955.6" font-size="16.8" fill="#fff" font-weight="bold" text-anchor="start" textLength="16.5" lengthAdjust="spacingAndGlyphs" xml:space="preserve">50</text>
<polygon points="1404,1020.60 1412,1007.60 1479.2,1007.60 1479.2,1033.60 1412,1033.60" fill="#1135e6"/>
<text x="1418.2" y="1025.4" font-size="16.8" fill="#fff" font-weight="bold" text-anchor="start" textLength="55.5" lengthAdjust="spacingAndGlyphs" xml:space="preserve">117-108</text>
</svg></body></html>
